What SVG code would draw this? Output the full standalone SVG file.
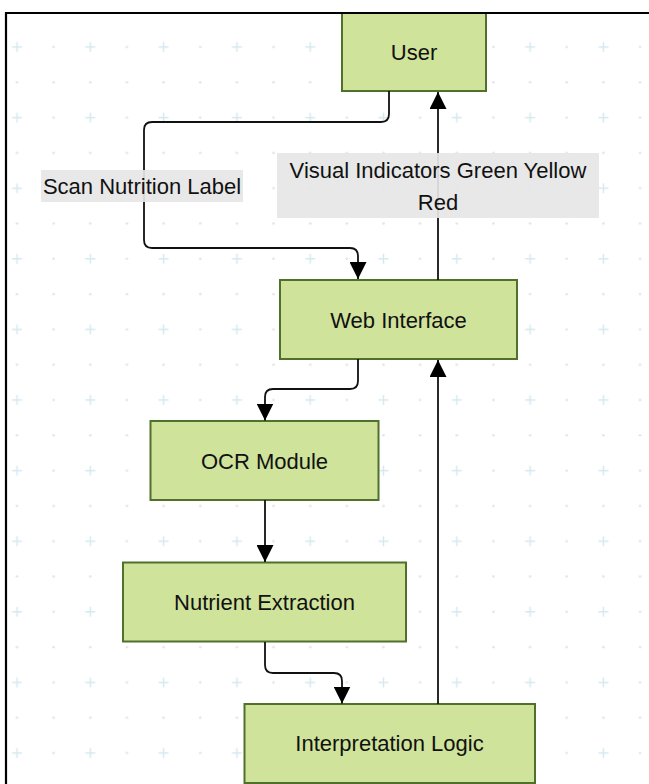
<svg xmlns="http://www.w3.org/2000/svg" width="649" height="784" viewBox="0 0 649 784">
  <style>
    .node rect { fill: #cfe39b; stroke: #51702c; stroke-width: 2; }
    .node text { font-family: "Liberation Sans", Arial, sans-serif; font-size: 22px; fill: #111; text-anchor: middle; dominant-baseline: central; }
    .edge { fill: none; stroke: #111; stroke-width: 1.8; }
    .lbl-bg { fill: #e6e6e6; fill-opacity: 0.92; }
    .lbl { font-family: "Liberation Sans", Arial, sans-serif; font-size: 22px; fill: #111; text-anchor: middle; dominant-baseline: central; }
  </style>
  <defs>
    <pattern id="grid" patternUnits="userSpaceOnUse" x="-1.33" y="29.35" width="73.3" height="70.6">
      <path d="M13.33,17.65 H23.33 M18.33,12.65 V22.65" stroke="#d6e9ef" stroke-width="1.5" fill="none"/>
      <circle cx="54.98" cy="17.65" r="1.3" fill="#e4e4e4"/>
      <circle cx="18.33" cy="52.95" r="1.3" fill="#e4e4e4"/>
      <circle cx="54.98" cy="52.95" r="1.3" fill="#e4e4e4"/>
    </pattern>
    <marker id="arrow" markerUnits="userSpaceOnUse" markerWidth="17" markerHeight="17" refX="17" refY="8.5" orient="auto">
      <path d="M0,0 L17,8.5 L0,17 z" fill="#000"/>
    </marker>
  </defs>

  <rect x="0" y="0" width="649" height="784" fill="#fff"/>
  <rect x="6" y="13" width="700" height="800" fill="url(#grid)"/>

  <g id="nodes">
    <g id="node-user" class="node">
      <rect x="342" y="13" width="144" height="78"/>
      <text x="414" y="52">User</text>
    </g>
    <g id="node-web" class="node">
      <rect x="280" y="280" width="237" height="79"/>
      <text x="398.5" y="320">Web Interface</text>
    </g>
    <g id="node-ocr" class="node">
      <rect x="150.5" y="421" width="228" height="79"/>
      <text x="264.5" y="461">OCR Module</text>
    </g>
    <g id="node-nutrient" class="node">
      <rect x="123" y="562.5" width="283" height="79"/>
      <text x="264.5" y="602">Nutrient Extraction</text>
    </g>
    <g id="node-interp" class="node">
      <rect x="244.5" y="704" width="290.5" height="79"/>
      <text x="389.5" y="743">Interpretation Logic</text>
    </g>
  </g>

  <g id="connectors">
    <path class="edge" d="M389,91 V114 Q389,122 381,122 H152 Q144,122 144,130 V240 Q144,248 152,248 H350 Q358,248 358,256 V279" marker-end="url(#arrow)"/>
    <path class="edge" d="M438,280 V92" marker-end="url(#arrow)"/>
    <path class="edge" d="M358,359 V381 Q358,389 350,389 H273 Q265,389 265,397 V420.5" marker-end="url(#arrow)"/>
    <path class="edge" d="M265,500 V562" marker-end="url(#arrow)"/>
    <path class="edge" d="M265,642 V665 Q265,673 273,673 H334 Q342,673 342,681 V703.5" marker-end="url(#arrow)"/>
    <path class="edge" d="M438,704 V360" marker-end="url(#arrow)"/>
    <g id="edge-labels">
      <rect class="lbl-bg" x="41" y="170" width="202" height="32"/>
      <text class="lbl" x="142" y="186">Scan Nutrition Label</text>
      <rect class="lbl-bg" x="277" y="153" width="322" height="65"/>
      <text class="lbl" x="438" y="170">Visual Indicators Green Yellow</text>
      <text class="lbl" x="438" y="202">Red</text>
    </g>
  </g>

  <path d="M6,800 V13 H660" fill="none" stroke="#000" stroke-width="2.2"/>
</svg>
